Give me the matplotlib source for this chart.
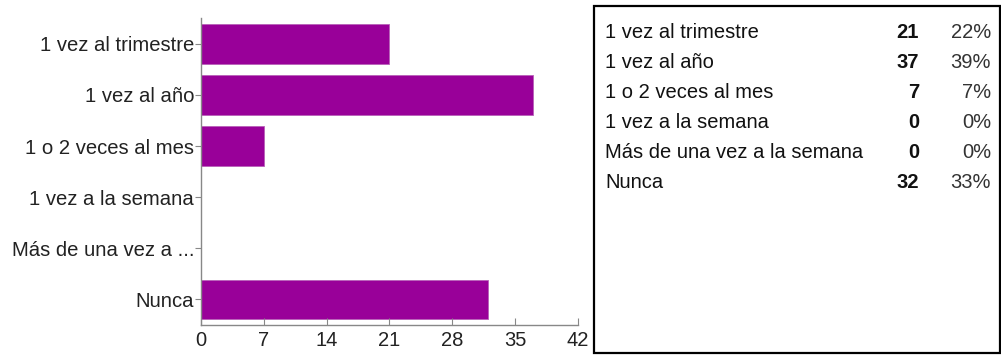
import matplotlib.pyplot as plt
from matplotlib.patches import Rectangle

plt.rcParams['font.family'] = ['Liberation Sans', 'DejaVu Sans']

# Respuestas de la encuesta
categorias = ["1 vez al trimestre", "1 vez al año", "1 o 2 veces al mes",
              "1 vez a la semana", "Más de una vez a la semana", "Nunca"]
etiquetas_eje = ["1 vez al trimestre", "1 vez al año", "1 o 2 veces al mes",
                 "1 vez a la semana", "Más de una vez a ...", "Nunca"]
respuestas = [21, 37, 7, 0, 0, 32]
porcentajes = ["22%", "39%", "7%", "0%", "0%", "33%"]
ticks_x = [0, 7, 14, 21, 28, 35, 42]

COLOR = "#990099"

fig = plt.figure(figsize=(10.01, 3.56), dpi=100)
ax = fig.add_axes([0.2008, 0.0870, 0.3766, 0.862])

posiciones = list(range(len(categorias)))
ax.barh(posiciones, respuestas, height=0.78, color=COLOR,
        edgecolor="#b860b8", linewidth=0.6)
ax.set_ylim(len(categorias) - 0.5, -0.5)
ax.set_xlim(0, 42)
ax.set_xticks(ticks_x)
ax.set_yticks(posiciones)
ax.set_yticklabels(etiquetas_eje)

for lado in ["top", "right"]:
    ax.spines[lado].set_visible(False)
for lado in ["left", "bottom"]:
    ax.spines[lado].set_color("#888888")
    ax.spines[lado].set_linewidth(1)
ax.tick_params(axis="y", length=4, color="#888888", labelsize=14.6, pad=1,
               labelcolor="#222222")
ax.tick_params(axis="x", length=5, direction="in", color="#888888",
               labelsize=14.5, pad=4, labelcolor="#222222")

# Tabla resumen a la derecha
fig.add_artist(Rectangle((594 / 1001, 1 - 353 / 356), 406 / 1001, 347 / 356,
                         transform=fig.transFigure, fill=False,
                         edgecolor="black", linewidth=1.6))
y0, paso = 32, 30.2
for i, (cat, n, pct) in enumerate(zip(categorias, respuestas, porcentajes)):
    y = 1 - (y0 + i * paso) / 356
    fig.text(605 / 1001, y, cat, fontsize=14.5, va="center", ha="left",
             color="#111111")
    fig.text(919 / 1001, y, str(n), fontsize=14.5, va="center", ha="right",
             fontweight="bold", color="#111111")
    fig.text(991 / 1001, y, pct, fontsize=14.5, va="center", ha="right",
             color="#333333")

fig.savefig("out.png", dpi=100)
